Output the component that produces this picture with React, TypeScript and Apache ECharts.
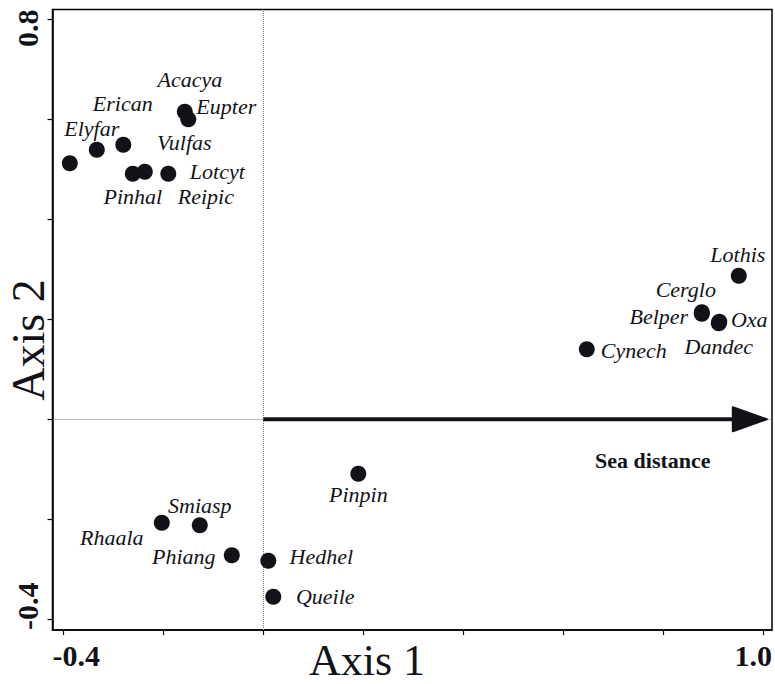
import React, { useEffect, useRef } from "react";
import * as echarts from "echarts";

// ---- data ----
const species = [
  "Elyfar", "Erican", "Vulfas", "Acacya", "Eupter", "Pinhal", "Reipic", "Lotcyt",
  "Lothis", "Cerglo", "Belper", "Oxa", "Dandec", "Cynech",
  "Pinpin", "Rhaala", "Smiasp", "Phiang", "Hedhel", "Queile",
];
const axis1Scores = [
  -0.387, -0.333, -0.28, -0.157, -0.15, -0.261, -0.237, -0.19,
  0.951, 0.877, 0.877, 0.912, 0.911, 0.647,
  0.19, -0.203, -0.127, -0.063, 0.01, 0.02,
];
const axis2Scores = [
  0.512, 0.539, 0.549, 0.615, 0.6, 0.491, 0.495, 0.491,
  0.287, 0.214, 0.211, 0.195, 0.192, 0.14,
  -0.109, -0.207, -0.212, -0.272, -0.283, -0.355,
];

const vectorName = "Sea distance";
const vectorEnd = [1.007, 0];

const xTicks = [-0.4, -0.2, 0, 0.2, 0.4, 0.6, 0.8, 1.0];
const yTicks = [-0.4, -0.2, 0, 0.2, 0.4, 0.6, 0.8];
const xRange = [-0.4216, 1.0174];
const yRange = [-0.4214, 0.8196];
const xTitle = "Axis 1";
const yTitle = "Axis 2";

// ---- label placement (style only) ----
const labelOffsets: Record<string, [number, number]> = {
  Elyfar: [22, -35], Erican: [26, -46], Vulfas: [61, -2], Acacya: [5, -32],
  Eupter: [38, -13], Pinhal: [0, 23], Reipic: [61, 25], Lotcyt: [49, -2],
  Lothis: [-1, -21], Cerglo: [-16, -23], Belper: [-43, 3], Oxa: [30, -2],
  Dandec: [0, 23], Cynech: [47, 1], Pinpin: [0, 21], Rhaala: [-50, 15],
  Smiasp: [0, -20], Phiang: [-48, 1], Hedhel: [53, -4], Queile: [52, 0],
};

const SERIF = '"Liberation Serif", "Times New Roman", serif';
const INK = "#111318";

export default function App() {
  const ref = useRef<HTMLDivElement>(null);

  useEffect(() => {
    if (!ref.current) return;
    const chart = echarts.init(ref.current, null, { renderer: "svg" });

    const points = species.map((n, i) => ({
      name: n,
      value: [axis1Scores[i], axis2Scores[i]],
      label: { offset: labelOffsets[n] || [0, 0] },
    }));

    const option: any = {
      animation: false,
      backgroundColor: "#fff",
      grid: {
        left: 52.5,
        right: 3,
        top: 9.5,
        bottom: 54,
        show: true,
        borderColor: "#000",
        borderWidth: 1.5,
        backgroundColor: "transparent",
      },
      xAxis: {
        type: "value",
        min: xRange[0],
        max: xRange[1],
        splitLine: { show: false },
        axisLine: { show: true, onZero: false, lineStyle: { color: "#000", width: 1.5 } },
        axisTick: { show: true, customValues: xTicks, length: 5, lineStyle: { color: "#000", width: 1.2 } },
        axisLabel: {
          customValues: xRange,
          formatter: (v: number) => v.toFixed(1),
          alignMinLabel: "left",
          alignMaxLabel: "right",
          fontFamily: SERIF,
          fontWeight: "bold",
          fontSize: 30,
          color: INK,
          margin: 10,
        },
      },
      yAxis: {
        type: "value",
        min: yRange[0],
        max: yRange[1],
        splitLine: { show: false },
        axisLine: { show: true, onZero: false, lineStyle: { color: "#000", width: 1.5 } },
        axisTick: { show: true, customValues: yTicks, length: 5, lineStyle: { color: "#000", width: 1.2 } },
        axisLabel: {
          customValues: yRange,
          formatter: (v: number) => v.toFixed(1),
          rotate: 90,
          alignMinLabel: "left",
          alignMaxLabel: "right",
          fontFamily: SERIF,
          fontWeight: "bold",
          fontSize: 30,
          color: INK,
          margin: 10,
        },
      },
      graphic: [
        {
          type: "text",
          x: 367,
          y: 660,
          style: {
            text: xTitle,
            font: `44px ${SERIF}`,
            fill: INK,
            align: "center",
            verticalAlign: "middle",
            textAlign: "center",
            textVerticalAlign: "middle",
          },
        },
        {
          type: "text",
          x: 28,
          y: 340,
          rotation: Math.PI / 2,
          style: {
            text: yTitle,
            font: `46px ${SERIF}`,
            fill: INK,
            align: "center",
            verticalAlign: "middle",
            textAlign: "center",
            textVerticalAlign: "middle",
          },
        },
      ],
      series: [
        {
          type: "scatter",
          data: points,
          symbol: "circle",
          symbolSize: 16,
          itemStyle: { color: INK, opacity: 1 },
          z: 3,
          label: {
            show: true,
            position: "inside",
            formatter: "{b}",
            fontFamily: SERIF,
            fontStyle: "italic",
            fontSize: 22,
            color: INK,
            align: "center",
            verticalAlign: "middle",
          },
          markLine: {
            silent: true,
            symbol: ["none", "none"],
            label: { show: false },
            lineStyle: { type: "dotted", color: "#777", width: 1 },
            data: [{ xAxis: 0 }, { yAxis: 0 }],
            z: 1,
          },
        },
        {
          type: "custom",
          coordinateSystem: "cartesian2d",
          clip: false,
          z: 4,
          encode: { x: [0, 2], y: [1, 3] },
          data: [[0, 0, vectorEnd[0], vectorEnd[1]]],
          renderItem: (params: any, api: any) => {
            const s = api.coord([api.value(0), api.value(1)]);
            const e = api.coord([api.value(2), api.value(3)]);
            const head = 34;
            const half = 12;
            return {
              type: "group",
              children: [
                {
                  type: "line",
                  shape: { x1: s[0], y1: s[1], x2: e[0] - head + 4, y2: e[1] },
                  style: { stroke: INK, lineWidth: 4 },
                },
                {
                  type: "polygon",
                  shape: {
                    points: [
                      [e[0], e[1]],
                      [e[0] - head, e[1] - half],
                      [e[0] - head, e[1] + half],
                    ],
                  },
                  style: { fill: INK, stroke: INK, lineWidth: 2, lineJoin: "round" },
                },
                {
                  type: "text",
                  x: e[0] - 114,
                  y: e[1] + 41,
                  style: {
                    text: vectorName,
                    font: `bold 22px ${SERIF}`,
                    fill: INK,
                    align: "center",
                    verticalAlign: "middle",
                    textAlign: "center",
                    textVerticalAlign: "middle",
                  },
                },
              ],
            };
          },
        },
      ],
    };

    chart.setOption(option);
    return () => chart.dispose();
  }, []);

  return (
    <div
      ref={ref}
      style={{ position: "fixed", left: 0, top: 0, width: 775, height: 684, background: "#fff" }}
    />
  );
}
